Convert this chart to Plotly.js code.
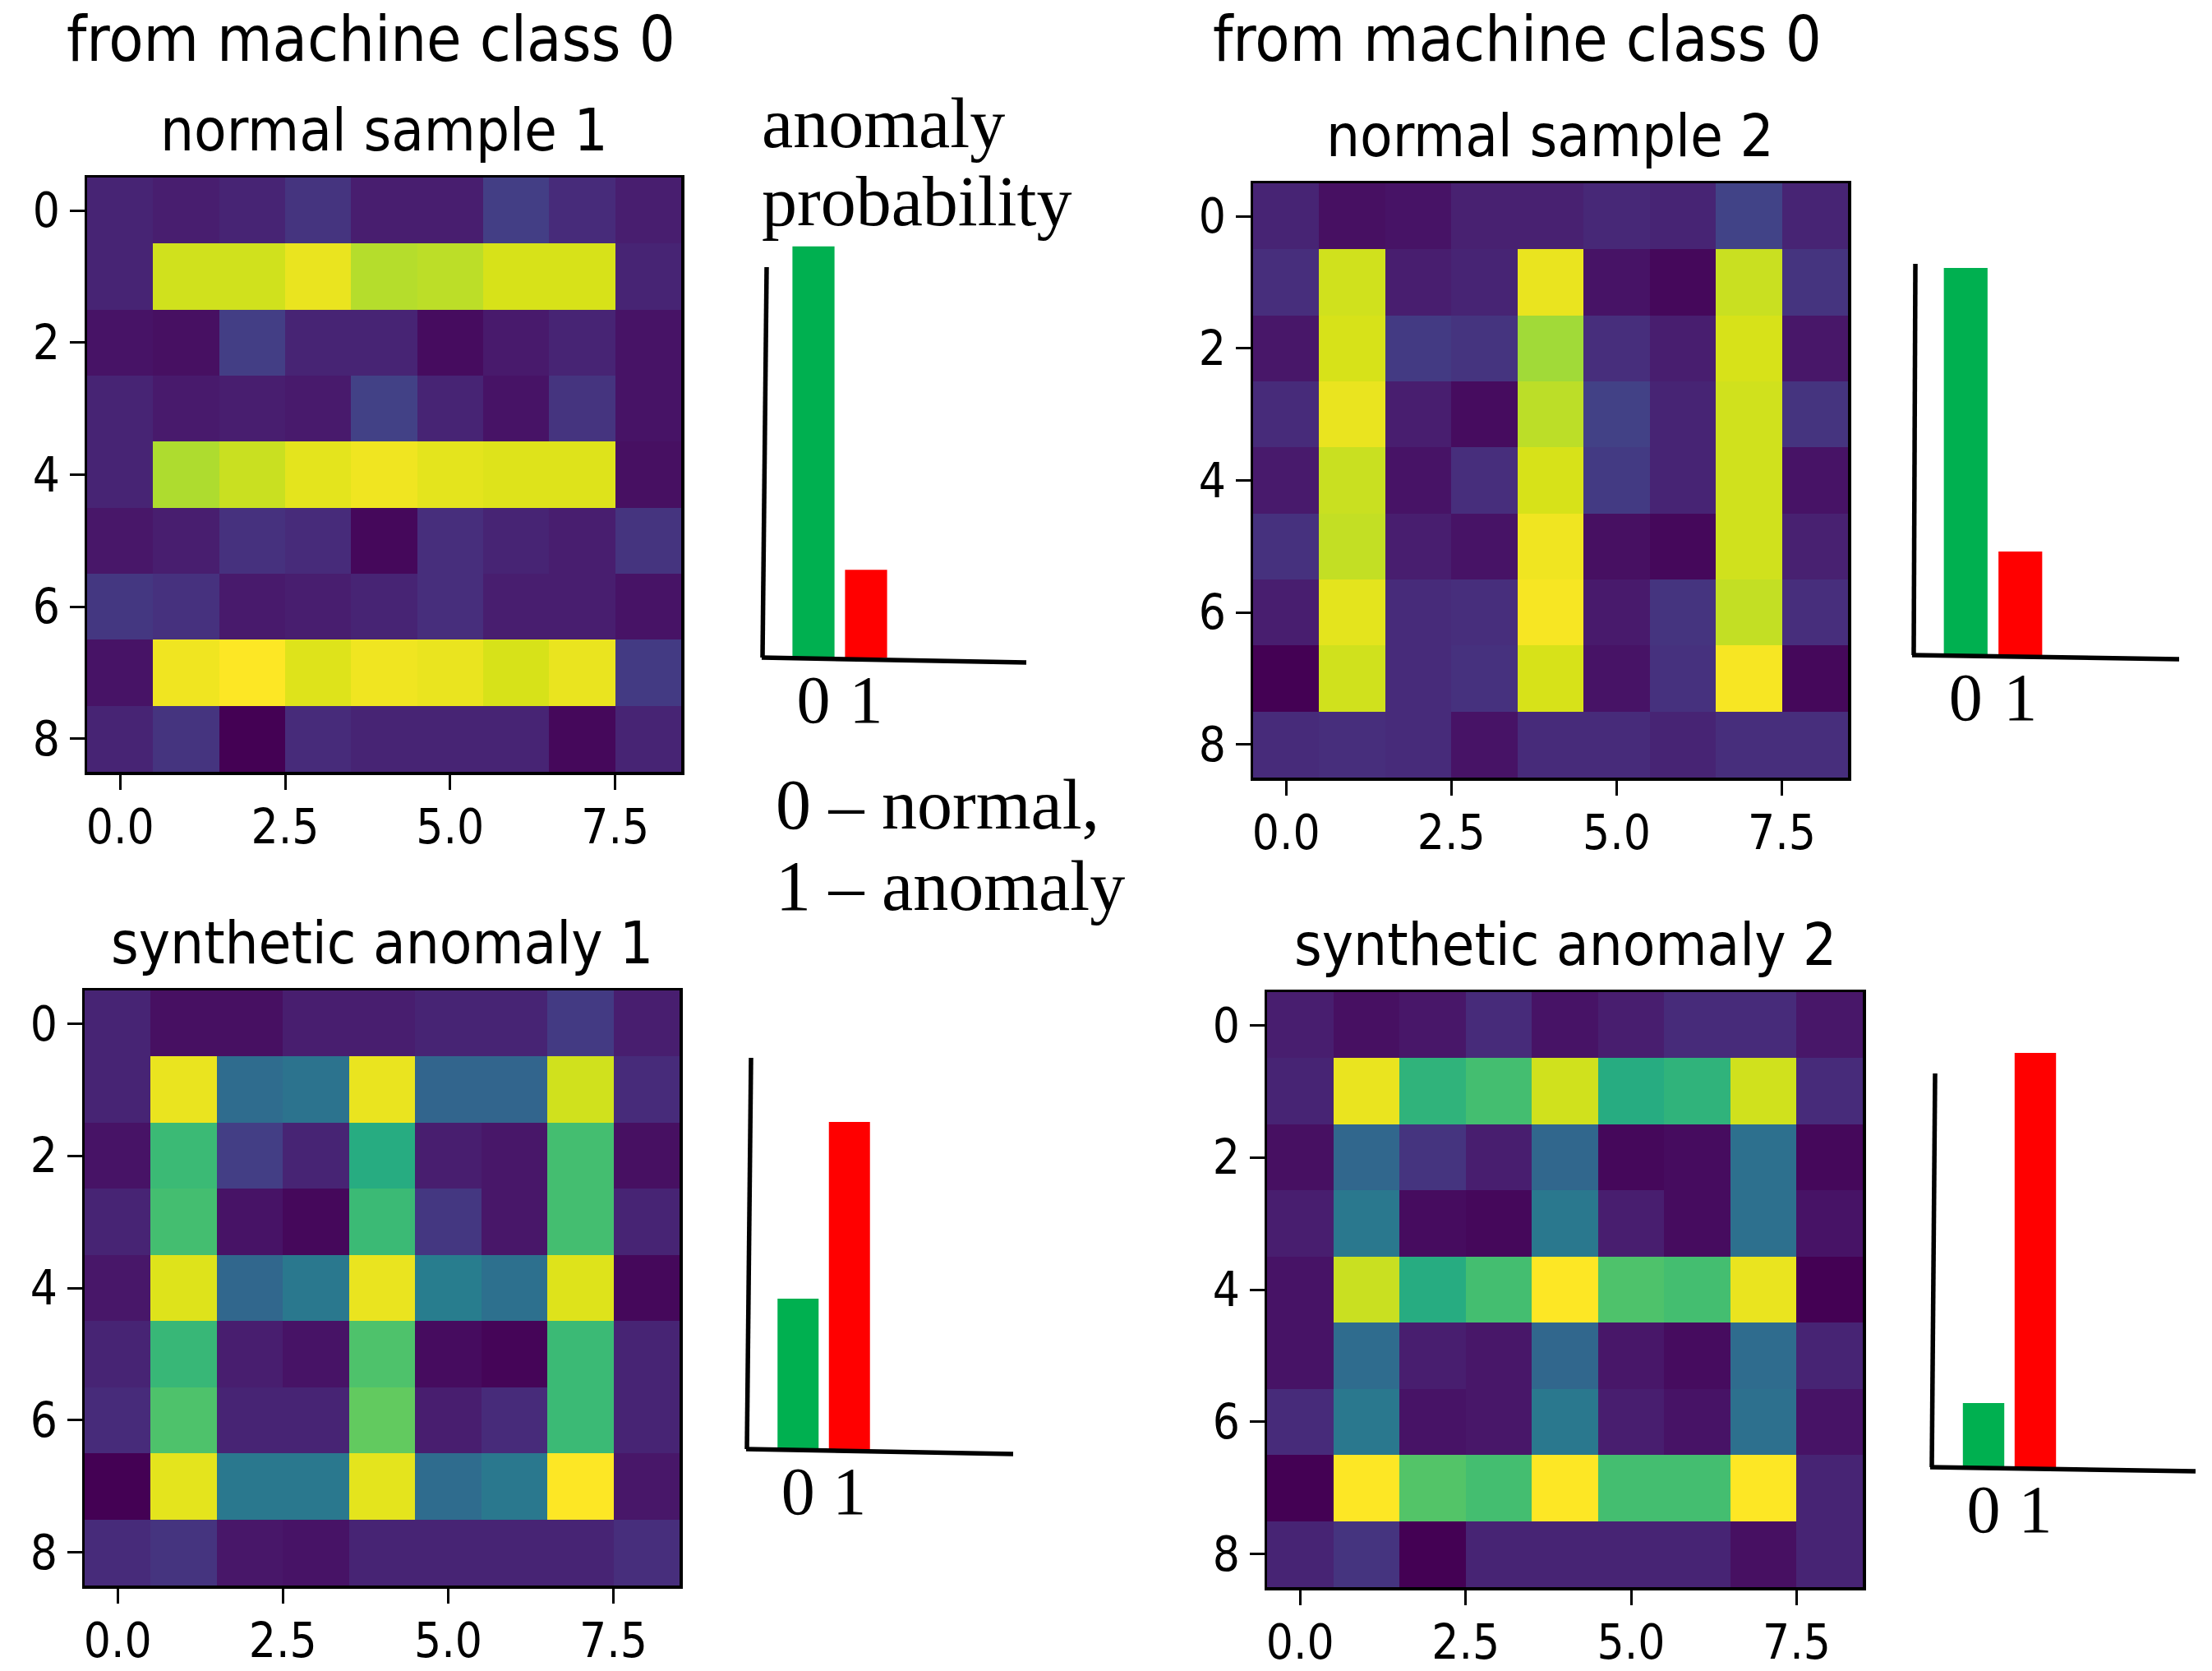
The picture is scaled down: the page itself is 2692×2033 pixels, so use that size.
<!DOCTYPE html>
<html>
<head>
<meta charset="utf-8">
<script src="https://cdn.plot.ly/plotly-3.0.1.min.js"></script>
<style>html,body{margin:0;padding:0;background:#fff;}#chart{width:2692px;height:2033px;}</style>
</head>
<body>
<div id="chart"></div>
<script>
// ---------------- DATA ----------------
const normalSample1 = [
  [0.10,0.08,0.10,0.15,0.08,0.08,0.18,0.12,0.08],
  [0.10,0.93,0.93,0.97,0.89,0.90,0.94,0.94,0.10],
  [0.05,0.04,0.18,0.10,0.10,0.03,0.07,0.10,0.05],
  [0.10,0.07,0.08,0.07,0.19,0.10,0.05,0.15,0.05],
  [0.10,0.88,0.92,0.96,0.98,0.96,0.95,0.95,0.04],
  [0.06,0.08,0.14,0.12,0.02,0.13,0.10,0.08,0.15],
  [0.16,0.14,0.07,0.08,0.10,0.13,0.08,0.08,0.05],
  [0.05,0.98,1.00,0.95,0.98,0.97,0.94,0.97,0.17],
  [0.10,0.15,0.00,0.12,0.10,0.10,0.10,0.02,0.10]
];
const normalSample2 = [
  [0.10,0.04,0.05,0.09,0.09,0.11,0.10,0.20,0.10],
  [0.13,0.93,0.08,0.10,0.97,0.05,0.02,0.92,0.15],
  [0.06,0.94,0.17,0.15,0.86,0.13,0.08,0.94,0.06],
  [0.12,0.97,0.08,0.03,0.90,0.19,0.10,0.93,0.15],
  [0.07,0.92,0.05,0.13,0.94,0.17,0.10,0.93,0.05],
  [0.14,0.91,0.08,0.05,0.98,0.04,0.02,0.93,0.09],
  [0.08,0.96,0.12,0.13,0.99,0.07,0.15,0.91,0.13],
  [0.00,0.93,0.12,0.14,0.94,0.05,0.14,0.99,0.02],
  [0.12,0.13,0.12,0.05,0.12,0.12,0.10,0.13,0.13]
];
const syntheticAnomaly1 = [
  [0.10,0.04,0.04,0.08,0.08,0.10,0.10,0.17,0.08],
  [0.10,0.97,0.35,0.38,0.97,0.32,0.32,0.93,0.12],
  [0.05,0.68,0.18,0.10,0.62,0.08,0.06,0.70,0.04],
  [0.10,0.70,0.05,0.02,0.68,0.16,0.06,0.70,0.10],
  [0.06,0.95,0.33,0.40,0.97,0.42,0.37,0.95,0.02],
  [0.10,0.67,0.08,0.05,0.72,0.03,0.01,0.68,0.10],
  [0.12,0.72,0.10,0.10,0.76,0.08,0.12,0.68,0.10],
  [0.00,0.96,0.40,0.40,0.96,0.35,0.40,1.00,0.06],
  [0.12,0.15,0.06,0.05,0.10,0.10,0.10,0.10,0.13]
];
const syntheticAnomaly2 = [
  [0.08,0.04,0.06,0.12,0.05,0.08,0.12,0.12,0.06],
  [0.10,0.97,0.65,0.70,0.93,0.62,0.65,0.93,0.12],
  [0.04,0.33,0.15,0.08,0.33,0.02,0.03,0.37,0.02],
  [0.08,0.40,0.03,0.02,0.40,0.08,0.03,0.37,0.05],
  [0.05,0.92,0.62,0.70,1.00,0.72,0.70,0.97,0.00],
  [0.05,0.35,0.08,0.06,0.33,0.06,0.03,0.35,0.10],
  [0.12,0.40,0.05,0.06,0.40,0.08,0.05,0.37,0.05],
  [0.00,1.00,0.73,0.70,1.00,0.70,0.70,1.00,0.10],
  [0.10,0.15,0.00,0.10,0.10,0.10,0.10,0.04,0.10]
];

const classes = [0, 1];
const classLabels = ["0", "1"];
const probNormal1 = [0.824, 0.176];
const probNormal2 = [0.789, 0.211];
const probAnomaly1 = [0.315, 0.685];
const probAnomaly2 = [0.134, 0.866];

const xTickVals = [0, 2.5, 5, 7.5];
const xTickText = ["0.0", "2.5", "5.0", "7.5"];
const yTickVals = [0, 2, 4, 6, 8];
const yTickText = ["0", "2", "4", "6", "8"];

const heatTitles = ["normal sample 1", "normal sample 2", "synthetic anomaly 1", "synthetic anomaly 2"];
const groupTitle = "from machine class 0";
const noteLines = ["anomaly", "probability", "0 – normal,", "1 – anomaly"];

// ---------------- LAYOUT ----------------
const W = 2692, H = 2033;
const px = v => v / W;
const py = v => 1 - v / H;
const barColors = ["#00B050", "#FF0000"];
const SANS = "DejaVu Sans Condensed, DejaVu Sans, sans-serif";
const SERIF = "Liberation Serif, serif";

const heatBoxes = [
  {x0:106, x1:829, y0:216, y1:939},
  {x0:1525, x1:2249, y0:223, y1:946},
  {x0:103, x1:827, y0:1205, y1:1929},
  {x0:1542, x1:2267, y0:1207, y1:1931}
];
const barBoxes = [
  {x0:958, x1:1086, base:800, scale:607},
  {x0:2359, x1:2492, base:797, scale:597},
  {x0:940, x1:1065, base:1763, scale:581},
  {x0:2382.5, x1:2508.5, base:1785, scale:582}
];

const heatData = [normalSample1, normalSample2, syntheticAnomaly1, syntheticAnomaly2];
const probData = [probNormal1, probNormal2, probAnomaly1, probAnomaly2];

const traces = [];
const layout = {
  width: W, height: H,
  margin: {l:0, r:0, t:0, b:0},
  paper_bgcolor: "#fff", plot_bgcolor: "rgba(0,0,0,0)",
  showlegend: false,
  annotations: [], shapes: []
};

heatData.forEach((z, i) => {
  const n = i + 1;
  const b = heatBoxes[i];
  traces.push({
    type: "heatmap", z: z,
    x: [0,1,2,3,4,5,6,7,8], y: [0,1,2,3,4,5,6,7,8],
    colorscale: "Viridis", zmin: 0, zmax: 1, showscale: false,
    xaxis: "x" + n, yaxis: "y" + n, hoverinfo: "z"
  });
  const axCommon = {
    showline: true, mirror: true, linecolor: "#000", linewidth: 3.5,
    ticks: "outside", ticklen: 18, tickwidth: 3, tickcolor: "#000",
    showgrid: false, zeroline: false, fixedrange: true,
    tickfont: {family: SANS, size: 58, color: "#000"}
  };
  layout["xaxis" + n] = Object.assign({}, axCommon, {
    domain: [px(b.x0), px(b.x1)], anchor: "y" + n,
    range: [-0.5, 8.5], tickvals: xTickVals, ticktext: xTickText,
    ticklabelstandoff: -4
  });
  layout["yaxis" + n] = Object.assign({}, axCommon, {
    domain: [py(b.y1), py(b.y0)], anchor: "x" + n,
    range: [8.5, -0.5], tickvals: yTickVals, ticktext: yTickText,
    ticklabelstandoff: 0
  });
  layout.annotations.push({
    xref: "paper", yref: "paper", x: px((b.x0 + b.x1) / 2), y: py(b.y0 - 58),
    xanchor: "center", yanchor: "middle", showarrow: false,
    text: heatTitles[i], font: {family: SANS, size: 72, color: "#000"}
  });
});

probData.forEach((p, i) => {
  const n = i + 5;
  const b = barBoxes[i];
  traces.push({
    type: "bar", x: classes, y: p, width: 0.8,
    marker: {color: barColors, line: {width: 0}},
    xaxis: "x" + n, yaxis: "y" + n, hoverinfo: "y"
  });
  layout["xaxis" + n] = {
    domain: [px(b.x0), px(b.x1)], anchor: "y" + n, range: [-0.5, 1.5],
    showline: false, showgrid: false, zeroline: false, ticks: "",
    tickvals: classes, ticktext: classLabels, fixedrange: true,
    tickfont: {family: SERIF, size: 82, color: "#000"}, ticklabelstandoff: -4
  };
  layout["yaxis" + n] = {
    domain: [py(b.base), py(b.base - b.scale)], anchor: "x" + n, range: [0, 1],
    showline: false, showgrid: false, zeroline: false, showticklabels: false,
    ticks: "", fixedrange: true
  };
});

// hand-drawn axis strokes of the bar panels (decoration)
const strokes = [
  [[933,325],[928,800]], [[927,800],[1249,806]],
  [[2331,321],[2329,797]], [[2327,797],[2652,802]],
  [[914,1287],[909,1763]], [[908,1763],[1233,1769]],
  [[2355,1306],[2351,1785]], [[2349,1785],[2672,1790]]
];
strokes.forEach(s => layout.shapes.push({
  type: "line", xref: "paper", yref: "paper",
  x0: px(s[0][0]), y0: py(s[0][1]), x1: px(s[1][0]), y1: py(s[1][1]),
  line: {color: "#000", width: 5.5}
}));

// group titles and side notes
[[452, 48], [1846, 48]].forEach(c => layout.annotations.push({
  xref: "paper", yref: "paper", x: px(c[0]), y: py(c[1]),
  xanchor: "center", yanchor: "middle", showarrow: false,
  text: groupTitle, font: {family: SANS, size: 77, color: "#000"}
}));
[[925, 150], [925, 245], [942, 979], [942, 1078]].forEach((pos, k) => {
  layout.annotations.push({
    xref: "paper", yref: "paper", x: px(pos[0]), y: py(pos[1]),
    xanchor: "left", yanchor: "middle", showarrow: false,
    text: noteLines[k], font: {family: SERIF, size: 86, color: "#000"}
  });
});

Plotly.newPlot("chart", traces, layout, {staticPlot: true});
</script>
</body>
</html>
